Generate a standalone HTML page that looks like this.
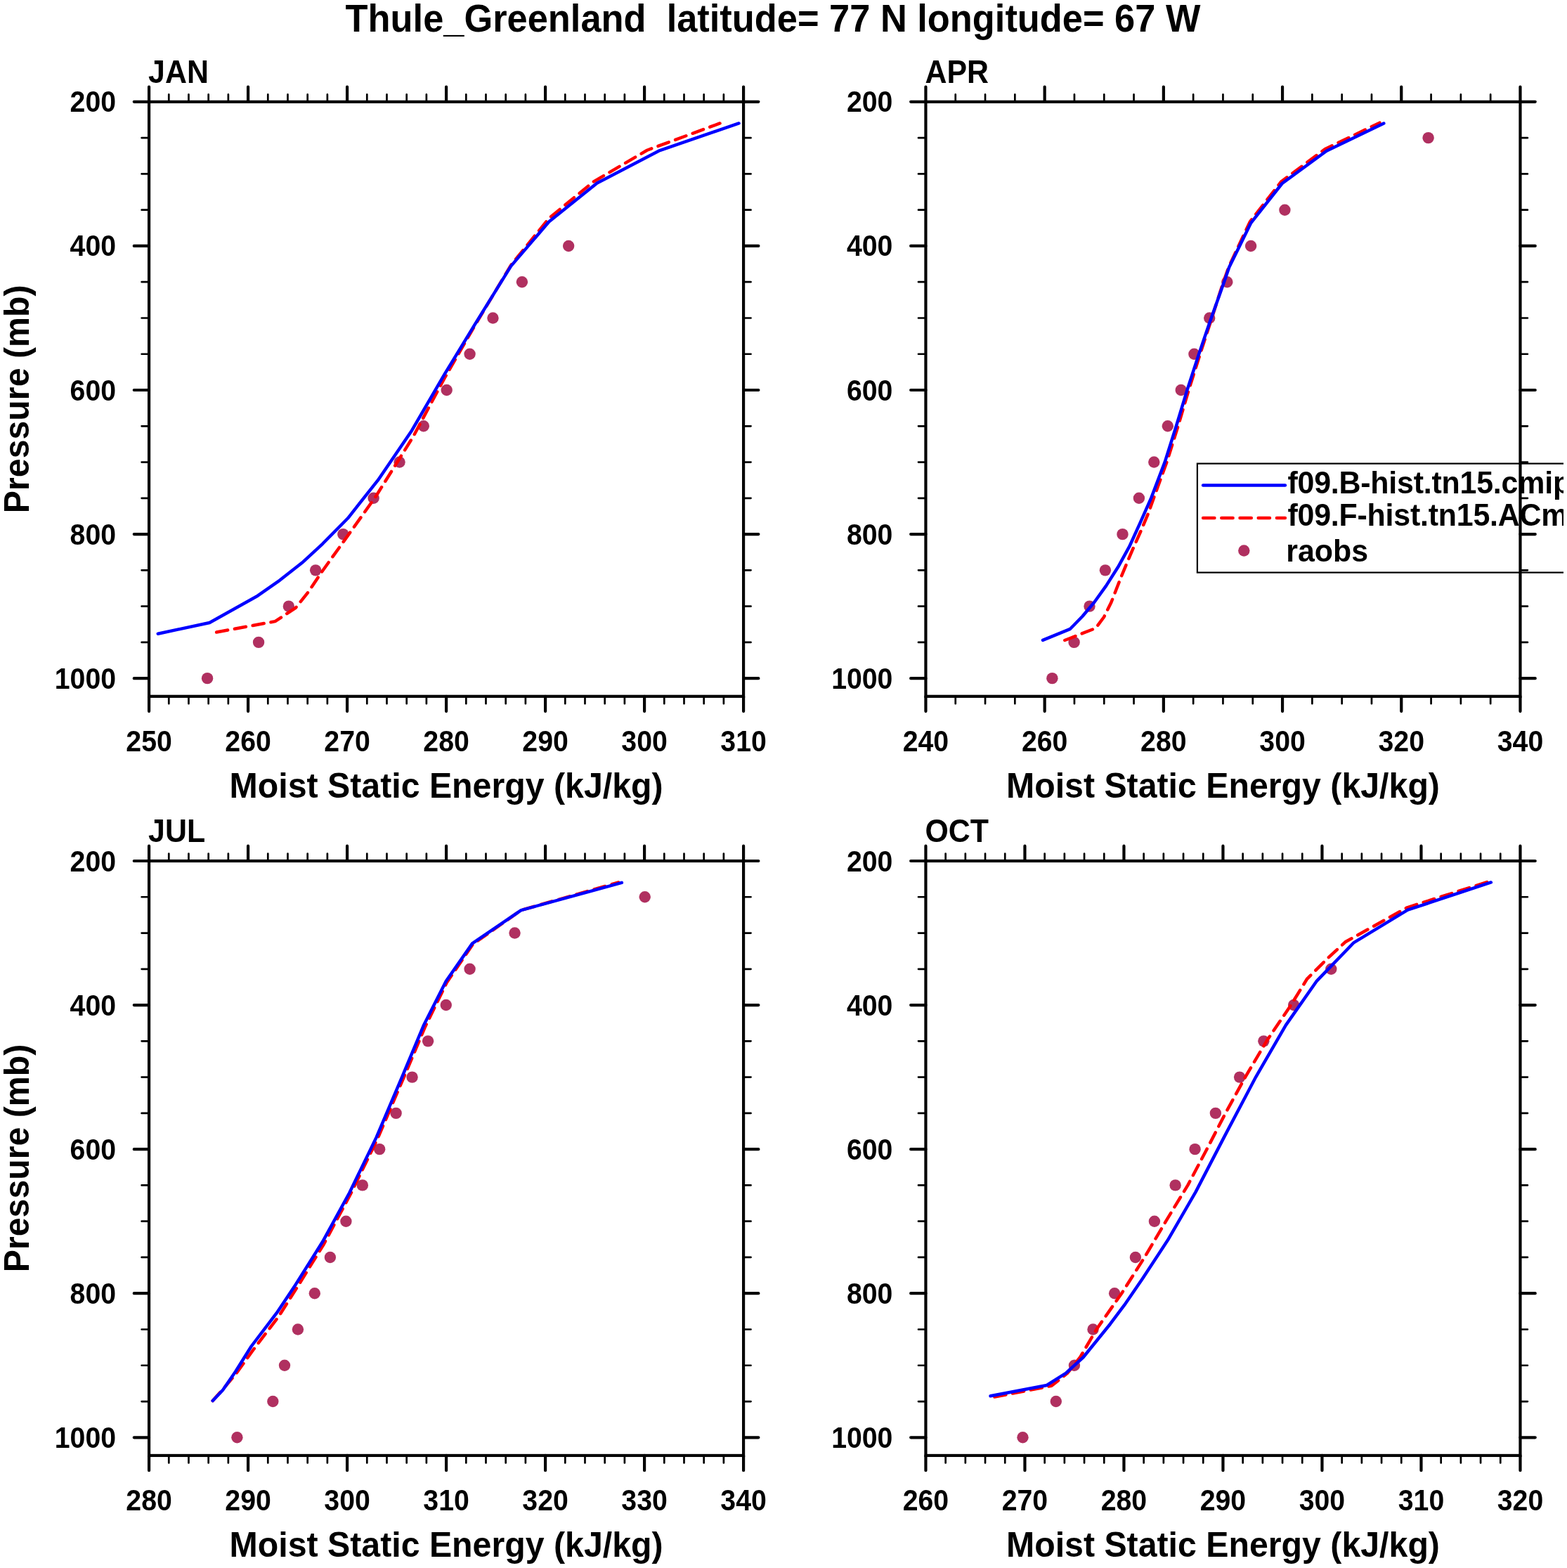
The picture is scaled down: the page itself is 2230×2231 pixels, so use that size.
<!DOCTYPE html>
<html lang="en"><head><meta charset="utf-8"><title>Thule_Greenland Moist Static Energy</title>
<style>html,body{margin:0;padding:0;background:#fff}svg{display:block}text{font-family:"Liberation Sans",Arial,Helvetica,sans-serif;font-weight:bold;fill:#000}</style></head><body>
<svg width="2230" height="2231" viewBox="0 0 2230 2231">
<rect width="2230" height="2231" fill="#fff"/>
<defs><clipPath id="clipR"><rect x="0" y="0" width="2225" height="2231"/></clipPath></defs>
<text transform="translate(1100 44.7) scale(1 1.045)" font-size="52.4" text-anchor="middle" xml:space="preserve">Thule_Greenland  latitude= 77 N longitude= 67 W</text>
<g>
<g fill="#b03060"><circle cx="295.06" cy="965.17" r="8.2"/><circle cx="368.05" cy="913.9" r="8.2"/><circle cx="410.85" cy="862.63" r="8.2"/><circle cx="449.15" cy="811.36" r="8.2"/><circle cx="488.35" cy="760.09" r="8.2"/><circle cx="531.6" cy="708.82" r="8.2"/><circle cx="568.54" cy="657.55" r="8.2"/><circle cx="602.79" cy="606.29" r="8.2"/><circle cx="635.68" cy="555.02" r="8.2"/><circle cx="668.57" cy="503.75" r="8.2"/><circle cx="701.46" cy="452.48" r="8.2"/><circle cx="742.91" cy="401.21" r="8.2"/><circle cx="809.14" cy="349.94" r="8.2"/></g>
<polyline fill="none" stroke="#ff0000" stroke-width="4.5" stroke-linecap="round" stroke-linejoin="round" stroke-dasharray="16.3 9.9" points="308.13,899.48 391.48,884.16 420.77,864.79 438.79,842.26 456.81,815.23 489.25,770.17 534.3,707.1 587.92,621.49 632.52,538.14 675.32,463.8 727.14,377.3 781.2,310.62 844.28,258.8 920.87,213.75 1024.5,175.45"/>
<polyline fill="none" stroke="#0000ff" stroke-width="4.5" stroke-linecap="round" stroke-linejoin="round" points="224.78,901.73 298.22,885.96 366.7,847.67 398.24,825.59 429.78,800.81 459.06,773.78 495.11,737.28 537.91,683.22 586.12,612.48 632.52,532.74 675.32,462.45 727.14,378.65 781.2,315.57 849.68,260.61 937.54,214.65 1051.53,175.45"/>
<g stroke="#000" stroke-linecap="round" fill="none">
<rect x="212.06" y="144.87" width="846.03" height="845.93" stroke-width="4.2" stroke-linejoin="miter"/>
<path stroke-width="4.2" d="M212.06 144.87V123.57M212.06 990.8V1012.1M353.06 144.87V123.57M353.06 990.8V1012.1M494.07 144.87V123.57M494.07 990.8V1012.1M635.08 144.87V123.57M635.08 990.8V1012.1M776.08 144.87V123.57M776.08 990.8V1012.1M917.09 144.87V123.57M917.09 990.8V1012.1M1058.09 144.87V123.57M1058.09 990.8V1012.1M212.06 144.87H190.76M1058.09 144.87H1079.39M212.06 349.94H190.76M1058.09 349.94H1079.39M212.06 555.02H190.76M1058.09 555.02H1079.39M212.06 760.09H190.76M1058.09 760.09H1079.39M212.06 965.17H190.76M1058.09 965.17H1079.39"/>
<path stroke-width="2.7" d="M240.26 144.87V134.42M240.26 990.8V1001.25M268.46 144.87V134.42M268.46 990.8V1001.25M296.66 144.87V134.42M296.66 990.8V1001.25M324.86 144.87V134.42M324.86 990.8V1001.25M381.27 144.87V134.42M381.27 990.8V1001.25M409.47 144.87V134.42M409.47 990.8V1001.25M437.67 144.87V134.42M437.67 990.8V1001.25M465.87 144.87V134.42M465.87 990.8V1001.25M522.27 144.87V134.42M522.27 990.8V1001.25M550.47 144.87V134.42M550.47 990.8V1001.25M578.67 144.87V134.42M578.67 990.8V1001.25M606.87 144.87V134.42M606.87 990.8V1001.25M663.28 144.87V134.42M663.28 990.8V1001.25M691.48 144.87V134.42M691.48 990.8V1001.25M719.68 144.87V134.42M719.68 990.8V1001.25M747.88 144.87V134.42M747.88 990.8V1001.25M804.28 144.87V134.42M804.28 990.8V1001.25M832.48 144.87V134.42M832.48 990.8V1001.25M860.68 144.87V134.42M860.68 990.8V1001.25M888.88 144.87V134.42M888.88 990.8V1001.25M945.29 144.87V134.42M945.29 990.8V1001.25M973.49 144.87V134.42M973.49 990.8V1001.25M1001.69 144.87V134.42M1001.69 990.8V1001.25M1029.89 144.87V134.42M1029.89 990.8V1001.25M212.06 196.14H201.61M1058.09 196.14H1068.54M212.06 247.41H201.61M1058.09 247.41H1068.54M212.06 298.68H201.61M1058.09 298.68H1068.54M212.06 401.21H201.61M1058.09 401.21H1068.54M212.06 452.48H201.61M1058.09 452.48H1068.54M212.06 503.75H201.61M1058.09 503.75H1068.54M212.06 606.29H201.61M1058.09 606.29H1068.54M212.06 657.55H201.61M1058.09 657.55H1068.54M212.06 708.82H201.61M1058.09 708.82H1068.54M212.06 811.36H201.61M1058.09 811.36H1068.54M212.06 862.63H201.61M1058.09 862.63H1068.54M212.06 913.9H201.61M1058.09 913.9H1068.54"/>
</g>
<text transform="translate(212.06 1068.8) scale(1 1.065)" font-size="39.25" text-anchor="middle">250</text>
<text transform="translate(353.06 1068.8) scale(1 1.065)" font-size="39.25" text-anchor="middle">260</text>
<text transform="translate(494.07 1068.8) scale(1 1.065)" font-size="39.25" text-anchor="middle">270</text>
<text transform="translate(635.08 1068.8) scale(1 1.065)" font-size="39.25" text-anchor="middle">280</text>
<text transform="translate(776.08 1068.8) scale(1 1.065)" font-size="39.25" text-anchor="middle">290</text>
<text transform="translate(917.09 1068.8) scale(1 1.065)" font-size="39.25" text-anchor="middle">300</text>
<text transform="translate(1058.09 1068.8) scale(1 1.065)" font-size="39.25" text-anchor="middle">310</text>
<text transform="translate(165.06 159.37) scale(1 1.065)" font-size="39.25" text-anchor="end">200</text>
<text transform="translate(165.06 364.44) scale(1 1.065)" font-size="39.25" text-anchor="end">400</text>
<text transform="translate(165.06 569.52) scale(1 1.065)" font-size="39.25" text-anchor="end">600</text>
<text transform="translate(165.06 774.59) scale(1 1.065)" font-size="39.25" text-anchor="end">800</text>
<text transform="translate(165.06 979.67) scale(1 1.065)" font-size="39.25" text-anchor="end">1000</text>
<text transform="translate(211.06 118.27) scale(1 1.065)" font-size="42.9" text-anchor="start">JAN</text>
<text transform="translate(635.08 1134.6) scale(1 1.045)" font-size="48.3" text-anchor="middle">Moist Static Energy (kJ/kg)</text>
<text transform="translate(40.9 567.84) rotate(-90) scale(1 1.045)" font-size="48.3" text-anchor="middle">Pressure (mb)</text>
</g>
<g>
<g fill="#b03060"><circle cx="1497.4" cy="965.17" r="8.2"/><circle cx="1528.6" cy="913.9" r="8.2"/><circle cx="1550.5" cy="862.63" r="8.2"/><circle cx="1572.9" cy="811.36" r="8.2"/><circle cx="1597.5" cy="760.09" r="8.2"/><circle cx="1620.9" cy="708.82" r="8.2"/><circle cx="1642.3" cy="657.55" r="8.2"/><circle cx="1661.8" cy="606.29" r="8.2"/><circle cx="1680.7" cy="555.02" r="8.2"/><circle cx="1699.4" cy="503.75" r="8.2"/><circle cx="1721.2" cy="452.48" r="8.2"/><circle cx="1746.3" cy="401.21" r="8.2"/><circle cx="1780.1" cy="349.94" r="8.2"/><circle cx="1828.4" cy="298.68" r="8.2"/><circle cx="2032.6" cy="196.14" r="8.2"/></g>
<polyline fill="none" stroke="#ff0000" stroke-width="4.5" stroke-linecap="round" stroke-linejoin="round" stroke-dasharray="16.3 9.9" points="1515.3,911 1559.3,893.8 1571,878 1581.3,857.3 1589.1,837.2 1596.2,819.1 1604.6,799 1613.7,777.7 1624.1,754.4 1634.4,729.8 1642.1,707.9 1660.5,657.4 1676.5,606.3 1691.6,555.2 1707.9,503.6 1722.1,460 1741,401.3 1749,379 1778.8,315.6 1823.1,258.6 1885.4,212.3 1963.4,174.7"/>
<polyline fill="none" stroke="#0000ff" stroke-width="4.5" stroke-linecap="round" stroke-linejoin="round" points="1484,910.8 1523.1,894.8 1540.6,876.7 1557.4,856.7 1574.2,833.4 1591.1,806.8 1607.2,777.7 1622.8,743.4 1638.5,707.9 1657.7,657.4 1673.9,606.3 1689.4,555.2 1706.2,503.6 1721.1,460 1742,401.3 1749.3,379.9 1780.3,317.1 1824.6,261 1887.8,214.7 1969.3,175.5"/>
<g clip-path="url(#clipR)">
<rect x="1703.9" y="659.6" width="560" height="155.0" fill="none" stroke="#000" stroke-width="2.2"/>
<line x1="1712.1" y1="690.6" x2="1828.9" y2="690.6" stroke="#0000ff" stroke-width="4.5" stroke-linecap="round"/>
<line x1="1712.1" y1="737.1" x2="1828.9" y2="737.1" stroke="#ff0000" stroke-width="4.5" stroke-linecap="round" stroke-dasharray="16.3 9.9"/>
<circle cx="1770.3" cy="783.5" r="8.2" fill="#b03060"/>
<text transform="translate(1832.4 701.6) scale(1 1.03)" font-size="42.9" text-anchor="start" letter-spacing="-0.2">f09.B-hist.tn15.cmip</text>
<text transform="translate(1832.4 748) scale(1 1.03)" font-size="42.9" text-anchor="start" letter-spacing="-0.2">f09.F-hist.tn15.ACm</text>
<text transform="translate(1830.2 798.6) scale(1 1.03)" font-size="42.9" text-anchor="start">raobs</text>
</g>
<g stroke="#000" stroke-linecap="round" fill="none">
<rect x="1317.44" y="144.87" width="846.03" height="845.93" stroke-width="4.2" stroke-linejoin="miter"/>
<path stroke-width="4.2" d="M1317.44 144.87V123.57M1317.44 990.8V1012.1M1486.65 144.87V123.57M1486.65 990.8V1012.1M1655.85 144.87V123.57M1655.85 990.8V1012.1M1825.06 144.87V123.57M1825.06 990.8V1012.1M1994.26 144.87V123.57M1994.26 990.8V1012.1M2163.47 144.87V123.57M2163.47 990.8V1012.1M1317.44 144.87H1296.14M2163.47 144.87H2184.77M1317.44 349.94H1296.14M2163.47 349.94H2184.77M1317.44 555.02H1296.14M2163.47 555.02H2184.77M1317.44 760.09H1296.14M2163.47 760.09H2184.77M1317.44 965.17H1296.14M2163.47 965.17H2184.77"/>
<path stroke-width="2.7" d="M1359.74 144.87V134.42M1359.74 990.8V1001.25M1402.04 144.87V134.42M1402.04 990.8V1001.25M1444.34 144.87V134.42M1444.34 990.8V1001.25M1528.95 144.87V134.42M1528.95 990.8V1001.25M1571.25 144.87V134.42M1571.25 990.8V1001.25M1613.55 144.87V134.42M1613.55 990.8V1001.25M1698.15 144.87V134.42M1698.15 990.8V1001.25M1740.45 144.87V134.42M1740.45 990.8V1001.25M1782.76 144.87V134.42M1782.76 990.8V1001.25M1867.36 144.87V134.42M1867.36 990.8V1001.25M1909.66 144.87V134.42M1909.66 990.8V1001.25M1951.96 144.87V134.42M1951.96 990.8V1001.25M2036.57 144.87V134.42M2036.57 990.8V1001.25M2078.87 144.87V134.42M2078.87 990.8V1001.25M2121.17 144.87V134.42M2121.17 990.8V1001.25M1317.44 196.14H1306.99M2163.47 196.14H2173.92M1317.44 247.41H1306.99M2163.47 247.41H2173.92M1317.44 298.68H1306.99M2163.47 298.68H2173.92M1317.44 401.21H1306.99M2163.47 401.21H2173.92M1317.44 452.48H1306.99M2163.47 452.48H2173.92M1317.44 503.75H1306.99M2163.47 503.75H2173.92M1317.44 606.29H1306.99M2163.47 606.29H2173.92M1317.44 657.55H1306.99M2163.47 657.55H2173.92M1317.44 708.82H1306.99M2163.47 708.82H2173.92M1317.44 811.36H1306.99M2163.47 811.36H2173.92M1317.44 862.63H1306.99M2163.47 862.63H2173.92M1317.44 913.9H1306.99M2163.47 913.9H2173.92"/>
</g>
<text transform="translate(1317.44 1068.8) scale(1 1.065)" font-size="39.25" text-anchor="middle">240</text>
<text transform="translate(1486.65 1068.8) scale(1 1.065)" font-size="39.25" text-anchor="middle">260</text>
<text transform="translate(1655.85 1068.8) scale(1 1.065)" font-size="39.25" text-anchor="middle">280</text>
<text transform="translate(1825.06 1068.8) scale(1 1.065)" font-size="39.25" text-anchor="middle">300</text>
<text transform="translate(1994.26 1068.8) scale(1 1.065)" font-size="39.25" text-anchor="middle">320</text>
<text transform="translate(2163.47 1068.8) scale(1 1.065)" font-size="39.25" text-anchor="middle">340</text>
<text transform="translate(1270.44 159.37) scale(1 1.065)" font-size="39.25" text-anchor="end">200</text>
<text transform="translate(1270.44 364.44) scale(1 1.065)" font-size="39.25" text-anchor="end">400</text>
<text transform="translate(1270.44 569.52) scale(1 1.065)" font-size="39.25" text-anchor="end">600</text>
<text transform="translate(1270.44 774.59) scale(1 1.065)" font-size="39.25" text-anchor="end">800</text>
<text transform="translate(1270.44 979.67) scale(1 1.065)" font-size="39.25" text-anchor="end">1000</text>
<text transform="translate(1316.44 118.27) scale(1 1.065)" font-size="42.9" text-anchor="start">APR</text>
<text transform="translate(1740.45 1134.6) scale(1 1.045)" font-size="48.3" text-anchor="middle">Moist Static Energy (kJ/kg)</text>
</g>
<g>
<g fill="#b03060"><circle cx="337.42" cy="2045.3" r="8.2"/><circle cx="388.33" cy="1994.03" r="8.2"/><circle cx="405" cy="1942.76" r="8.2"/><circle cx="423.92" cy="1891.49" r="8.2"/><circle cx="447.8" cy="1840.22" r="8.2"/><circle cx="469.88" cy="1788.95" r="8.2"/><circle cx="492.4" cy="1737.68" r="8.2"/><circle cx="515.83" cy="1686.42" r="8.2"/><circle cx="540.16" cy="1635.15" r="8.2"/><circle cx="563.59" cy="1583.88" r="8.2"/><circle cx="586.57" cy="1532.61" r="8.2"/><circle cx="609.09" cy="1481.34" r="8.2"/><circle cx="634.77" cy="1430.07" r="8.2"/><circle cx="668.57" cy="1378.81" r="8.2"/><circle cx="732.54" cy="1327.54" r="8.2"/><circle cx="917.72" cy="1276.27" r="8.2"/></g>
<polyline fill="none" stroke="#ff0000" stroke-width="4.5" stroke-linecap="round" stroke-linejoin="round" stroke-dasharray="16.3 9.9" points="302.72,1992.99 317.59,1976.32 336.51,1953.8 360.84,1920.01 396.89,1872.7 423.92,1829.9 460.19,1771.33 498.71,1699.24 537.23,1620.39 575.75,1530.29 605.26,1460.45 636.13,1397.38 673.07,1343.31 741.55,1295.1 880.32,1255.45"/>
<polyline fill="none" stroke="#0000ff" stroke-width="4.5" stroke-linecap="round" stroke-linejoin="round" points="302.72,1992.99 317.14,1977.68 335.16,1951.54 357.69,1915.5 393.73,1868.19 420.77,1827.64 459.06,1766.82 497.36,1696.99 535.66,1618.14 573.95,1528.03 603.24,1458.2 634.77,1396.02 672.17,1342.41 741.55,1295.1 884.83,1255.9"/>
<g stroke="#000" stroke-linecap="round" fill="none">
<rect x="212.06" y="1225" width="846.03" height="845.93" stroke-width="4.2" stroke-linejoin="miter"/>
<path stroke-width="4.2" d="M212.06 1225V1203.7M212.06 2070.93V2092.23M353.06 1225V1203.7M353.06 2070.93V2092.23M494.07 1225V1203.7M494.07 2070.93V2092.23M635.08 1225V1203.7M635.08 2070.93V2092.23M776.08 1225V1203.7M776.08 2070.93V2092.23M917.09 1225V1203.7M917.09 2070.93V2092.23M1058.09 1225V1203.7M1058.09 2070.93V2092.23M212.06 1225H190.76M1058.09 1225H1079.39M212.06 1430.07H190.76M1058.09 1430.07H1079.39M212.06 1635.15H190.76M1058.09 1635.15H1079.39M212.06 1840.22H190.76M1058.09 1840.22H1079.39M212.06 2045.3H190.76M1058.09 2045.3H1079.39"/>
<path stroke-width="2.7" d="M240.26 1225V1214.55M240.26 2070.93V2081.38M268.46 1225V1214.55M268.46 2070.93V2081.38M296.66 1225V1214.55M296.66 2070.93V2081.38M324.86 1225V1214.55M324.86 2070.93V2081.38M381.27 1225V1214.55M381.27 2070.93V2081.38M409.47 1225V1214.55M409.47 2070.93V2081.38M437.67 1225V1214.55M437.67 2070.93V2081.38M465.87 1225V1214.55M465.87 2070.93V2081.38M522.27 1225V1214.55M522.27 2070.93V2081.38M550.47 1225V1214.55M550.47 2070.93V2081.38M578.67 1225V1214.55M578.67 2070.93V2081.38M606.87 1225V1214.55M606.87 2070.93V2081.38M663.28 1225V1214.55M663.28 2070.93V2081.38M691.48 1225V1214.55M691.48 2070.93V2081.38M719.68 1225V1214.55M719.68 2070.93V2081.38M747.88 1225V1214.55M747.88 2070.93V2081.38M804.28 1225V1214.55M804.28 2070.93V2081.38M832.48 1225V1214.55M832.48 2070.93V2081.38M860.68 1225V1214.55M860.68 2070.93V2081.38M888.88 1225V1214.55M888.88 2070.93V2081.38M945.29 1225V1214.55M945.29 2070.93V2081.38M973.49 1225V1214.55M973.49 2070.93V2081.38M1001.69 1225V1214.55M1001.69 2070.93V2081.38M1029.89 1225V1214.55M1029.89 2070.93V2081.38M212.06 1276.27H201.61M1058.09 1276.27H1068.54M212.06 1327.54H201.61M1058.09 1327.54H1068.54M212.06 1378.81H201.61M1058.09 1378.81H1068.54M212.06 1481.34H201.61M1058.09 1481.34H1068.54M212.06 1532.61H201.61M1058.09 1532.61H1068.54M212.06 1583.88H201.61M1058.09 1583.88H1068.54M212.06 1686.42H201.61M1058.09 1686.42H1068.54M212.06 1737.68H201.61M1058.09 1737.68H1068.54M212.06 1788.95H201.61M1058.09 1788.95H1068.54M212.06 1891.49H201.61M1058.09 1891.49H1068.54M212.06 1942.76H201.61M1058.09 1942.76H1068.54M212.06 1994.03H201.61M1058.09 1994.03H1068.54"/>
</g>
<text transform="translate(212.06 2148.93) scale(1 1.065)" font-size="39.25" text-anchor="middle">280</text>
<text transform="translate(353.06 2148.93) scale(1 1.065)" font-size="39.25" text-anchor="middle">290</text>
<text transform="translate(494.07 2148.93) scale(1 1.065)" font-size="39.25" text-anchor="middle">300</text>
<text transform="translate(635.08 2148.93) scale(1 1.065)" font-size="39.25" text-anchor="middle">310</text>
<text transform="translate(776.08 2148.93) scale(1 1.065)" font-size="39.25" text-anchor="middle">320</text>
<text transform="translate(917.09 2148.93) scale(1 1.065)" font-size="39.25" text-anchor="middle">330</text>
<text transform="translate(1058.09 2148.93) scale(1 1.065)" font-size="39.25" text-anchor="middle">340</text>
<text transform="translate(165.06 1239.5) scale(1 1.065)" font-size="39.25" text-anchor="end">200</text>
<text transform="translate(165.06 1444.57) scale(1 1.065)" font-size="39.25" text-anchor="end">400</text>
<text transform="translate(165.06 1649.65) scale(1 1.065)" font-size="39.25" text-anchor="end">600</text>
<text transform="translate(165.06 1854.72) scale(1 1.065)" font-size="39.25" text-anchor="end">800</text>
<text transform="translate(165.06 2059.8) scale(1 1.065)" font-size="39.25" text-anchor="end">1000</text>
<text transform="translate(211.06 1198.4) scale(1 1.065)" font-size="42.9" text-anchor="start">JUL</text>
<text transform="translate(635.08 2214.73) scale(1 1.045)" font-size="48.3" text-anchor="middle">Moist Static Energy (kJ/kg)</text>
<text transform="translate(40.9 1647.96) rotate(-90) scale(1 1.045)" font-size="48.3" text-anchor="middle">Pressure (mb)</text>
</g>
<g>
<g fill="#b03060"><circle cx="1455.48" cy="2045.3" r="8.2"/><circle cx="1502.79" cy="1994.03" r="8.2"/><circle cx="1528.92" cy="1942.76" r="8.2"/><circle cx="1555.5" cy="1891.49" r="8.2"/><circle cx="1586.14" cy="1840.22" r="8.2"/><circle cx="1615.88" cy="1788.95" r="8.2"/><circle cx="1642.91" cy="1737.68" r="8.2"/><circle cx="1672.64" cy="1686.42" r="8.2"/><circle cx="1700.58" cy="1635.15" r="8.2"/><circle cx="1729.86" cy="1583.88" r="8.2"/><circle cx="1764.1" cy="1532.61" r="8.2"/><circle cx="1798.35" cy="1481.34" r="8.2"/><circle cx="1841.15" cy="1430.07" r="8.2"/><circle cx="1894.31" cy="1378.81" r="8.2"/></g>
<polyline fill="none" stroke="#ff0000" stroke-width="4.5" stroke-linecap="round" stroke-linejoin="round" stroke-dasharray="16.3 9.9" points="1415.38,1987.59 1496.48,1971.82 1519.01,1953.8 1537.03,1931.27 1561.1,1890.5 1596.4,1840 1629.4,1788 1659,1737.9 1690.5,1686.1 1716.5,1637 1744,1583.9 1772.1,1532.6 1802.6,1481.1 1837.3,1429.8 1860.1,1392.8 1888.6,1364.3 1914.5,1340.3 2002.5,1291.3 2116.4,1255"/>
<polyline fill="none" stroke="#0000ff" stroke-width="4.5" stroke-linecap="round" stroke-linejoin="round" points="1409.53,1986.24 1489.72,1970.92 1516.76,1953.8 1541.54,1931.27 1579.83,1883.96 1600.11,1856.93 1625.79,1819.54 1661.83,1764.57 1701.48,1696.09 1744.28,1613.64 1787.08,1532.54 1829.88,1458.65 1874.04,1395.57 1926.75,1341.06 2003.34,1294.65 2121.84,1255.45"/>
<g stroke="#000" stroke-linecap="round" fill="none">
<rect x="1317.44" y="1225" width="846.03" height="845.93" stroke-width="4.2" stroke-linejoin="miter"/>
<path stroke-width="4.2" d="M1317.44 1225V1203.7M1317.44 2070.93V2092.23M1458.45 1225V1203.7M1458.45 2070.93V2092.23M1599.45 1225V1203.7M1599.45 2070.93V2092.23M1740.45 1225V1203.7M1740.45 2070.93V2092.23M1881.46 1225V1203.7M1881.46 2070.93V2092.23M2022.47 1225V1203.7M2022.47 2070.93V2092.23M2163.47 1225V1203.7M2163.47 2070.93V2092.23M1317.44 1225H1296.14M2163.47 1225H2184.77M1317.44 1430.07H1296.14M2163.47 1430.07H2184.77M1317.44 1635.15H1296.14M2163.47 1635.15H2184.77M1317.44 1840.22H1296.14M2163.47 1840.22H2184.77M1317.44 2045.3H1296.14M2163.47 2045.3H2184.77"/>
<path stroke-width="2.7" d="M1345.64 1225V1214.55M1345.64 2070.93V2081.38M1373.84 1225V1214.55M1373.84 2070.93V2081.38M1402.04 1225V1214.55M1402.04 2070.93V2081.38M1430.24 1225V1214.55M1430.24 2070.93V2081.38M1486.65 1225V1214.55M1486.65 2070.93V2081.38M1514.85 1225V1214.55M1514.85 2070.93V2081.38M1543.05 1225V1214.55M1543.05 2070.93V2081.38M1571.25 1225V1214.55M1571.25 2070.93V2081.38M1627.65 1225V1214.55M1627.65 2070.93V2081.38M1655.85 1225V1214.55M1655.85 2070.93V2081.38M1684.05 1225V1214.55M1684.05 2070.93V2081.38M1712.25 1225V1214.55M1712.25 2070.93V2081.38M1768.66 1225V1214.55M1768.66 2070.93V2081.38M1796.86 1225V1214.55M1796.86 2070.93V2081.38M1825.06 1225V1214.55M1825.06 2070.93V2081.38M1853.26 1225V1214.55M1853.26 2070.93V2081.38M1909.66 1225V1214.55M1909.66 2070.93V2081.38M1937.86 1225V1214.55M1937.86 2070.93V2081.38M1966.06 1225V1214.55M1966.06 2070.93V2081.38M1994.26 1225V1214.55M1994.26 2070.93V2081.38M2050.67 1225V1214.55M2050.67 2070.93V2081.38M2078.87 1225V1214.55M2078.87 2070.93V2081.38M2107.07 1225V1214.55M2107.07 2070.93V2081.38M2135.27 1225V1214.55M2135.27 2070.93V2081.38M1317.44 1276.27H1306.99M2163.47 1276.27H2173.92M1317.44 1327.54H1306.99M2163.47 1327.54H2173.92M1317.44 1378.81H1306.99M2163.47 1378.81H2173.92M1317.44 1481.34H1306.99M2163.47 1481.34H2173.92M1317.44 1532.61H1306.99M2163.47 1532.61H2173.92M1317.44 1583.88H1306.99M2163.47 1583.88H2173.92M1317.44 1686.42H1306.99M2163.47 1686.42H2173.92M1317.44 1737.68H1306.99M2163.47 1737.68H2173.92M1317.44 1788.95H1306.99M2163.47 1788.95H2173.92M1317.44 1891.49H1306.99M2163.47 1891.49H2173.92M1317.44 1942.76H1306.99M2163.47 1942.76H2173.92M1317.44 1994.03H1306.99M2163.47 1994.03H2173.92"/>
</g>
<text transform="translate(1317.44 2148.93) scale(1 1.065)" font-size="39.25" text-anchor="middle">260</text>
<text transform="translate(1458.45 2148.93) scale(1 1.065)" font-size="39.25" text-anchor="middle">270</text>
<text transform="translate(1599.45 2148.93) scale(1 1.065)" font-size="39.25" text-anchor="middle">280</text>
<text transform="translate(1740.45 2148.93) scale(1 1.065)" font-size="39.25" text-anchor="middle">290</text>
<text transform="translate(1881.46 2148.93) scale(1 1.065)" font-size="39.25" text-anchor="middle">300</text>
<text transform="translate(2022.47 2148.93) scale(1 1.065)" font-size="39.25" text-anchor="middle">310</text>
<text transform="translate(2163.47 2148.93) scale(1 1.065)" font-size="39.25" text-anchor="middle">320</text>
<text transform="translate(1270.44 1239.5) scale(1 1.065)" font-size="39.25" text-anchor="end">200</text>
<text transform="translate(1270.44 1444.57) scale(1 1.065)" font-size="39.25" text-anchor="end">400</text>
<text transform="translate(1270.44 1649.65) scale(1 1.065)" font-size="39.25" text-anchor="end">600</text>
<text transform="translate(1270.44 1854.72) scale(1 1.065)" font-size="39.25" text-anchor="end">800</text>
<text transform="translate(1270.44 2059.8) scale(1 1.065)" font-size="39.25" text-anchor="end">1000</text>
<text transform="translate(1316.44 1198.4) scale(1 1.065)" font-size="42.9" text-anchor="start">OCT</text>
<text transform="translate(1740.45 2214.73) scale(1 1.045)" font-size="48.3" text-anchor="middle">Moist Static Energy (kJ/kg)</text>
</g>
</svg></body></html>
